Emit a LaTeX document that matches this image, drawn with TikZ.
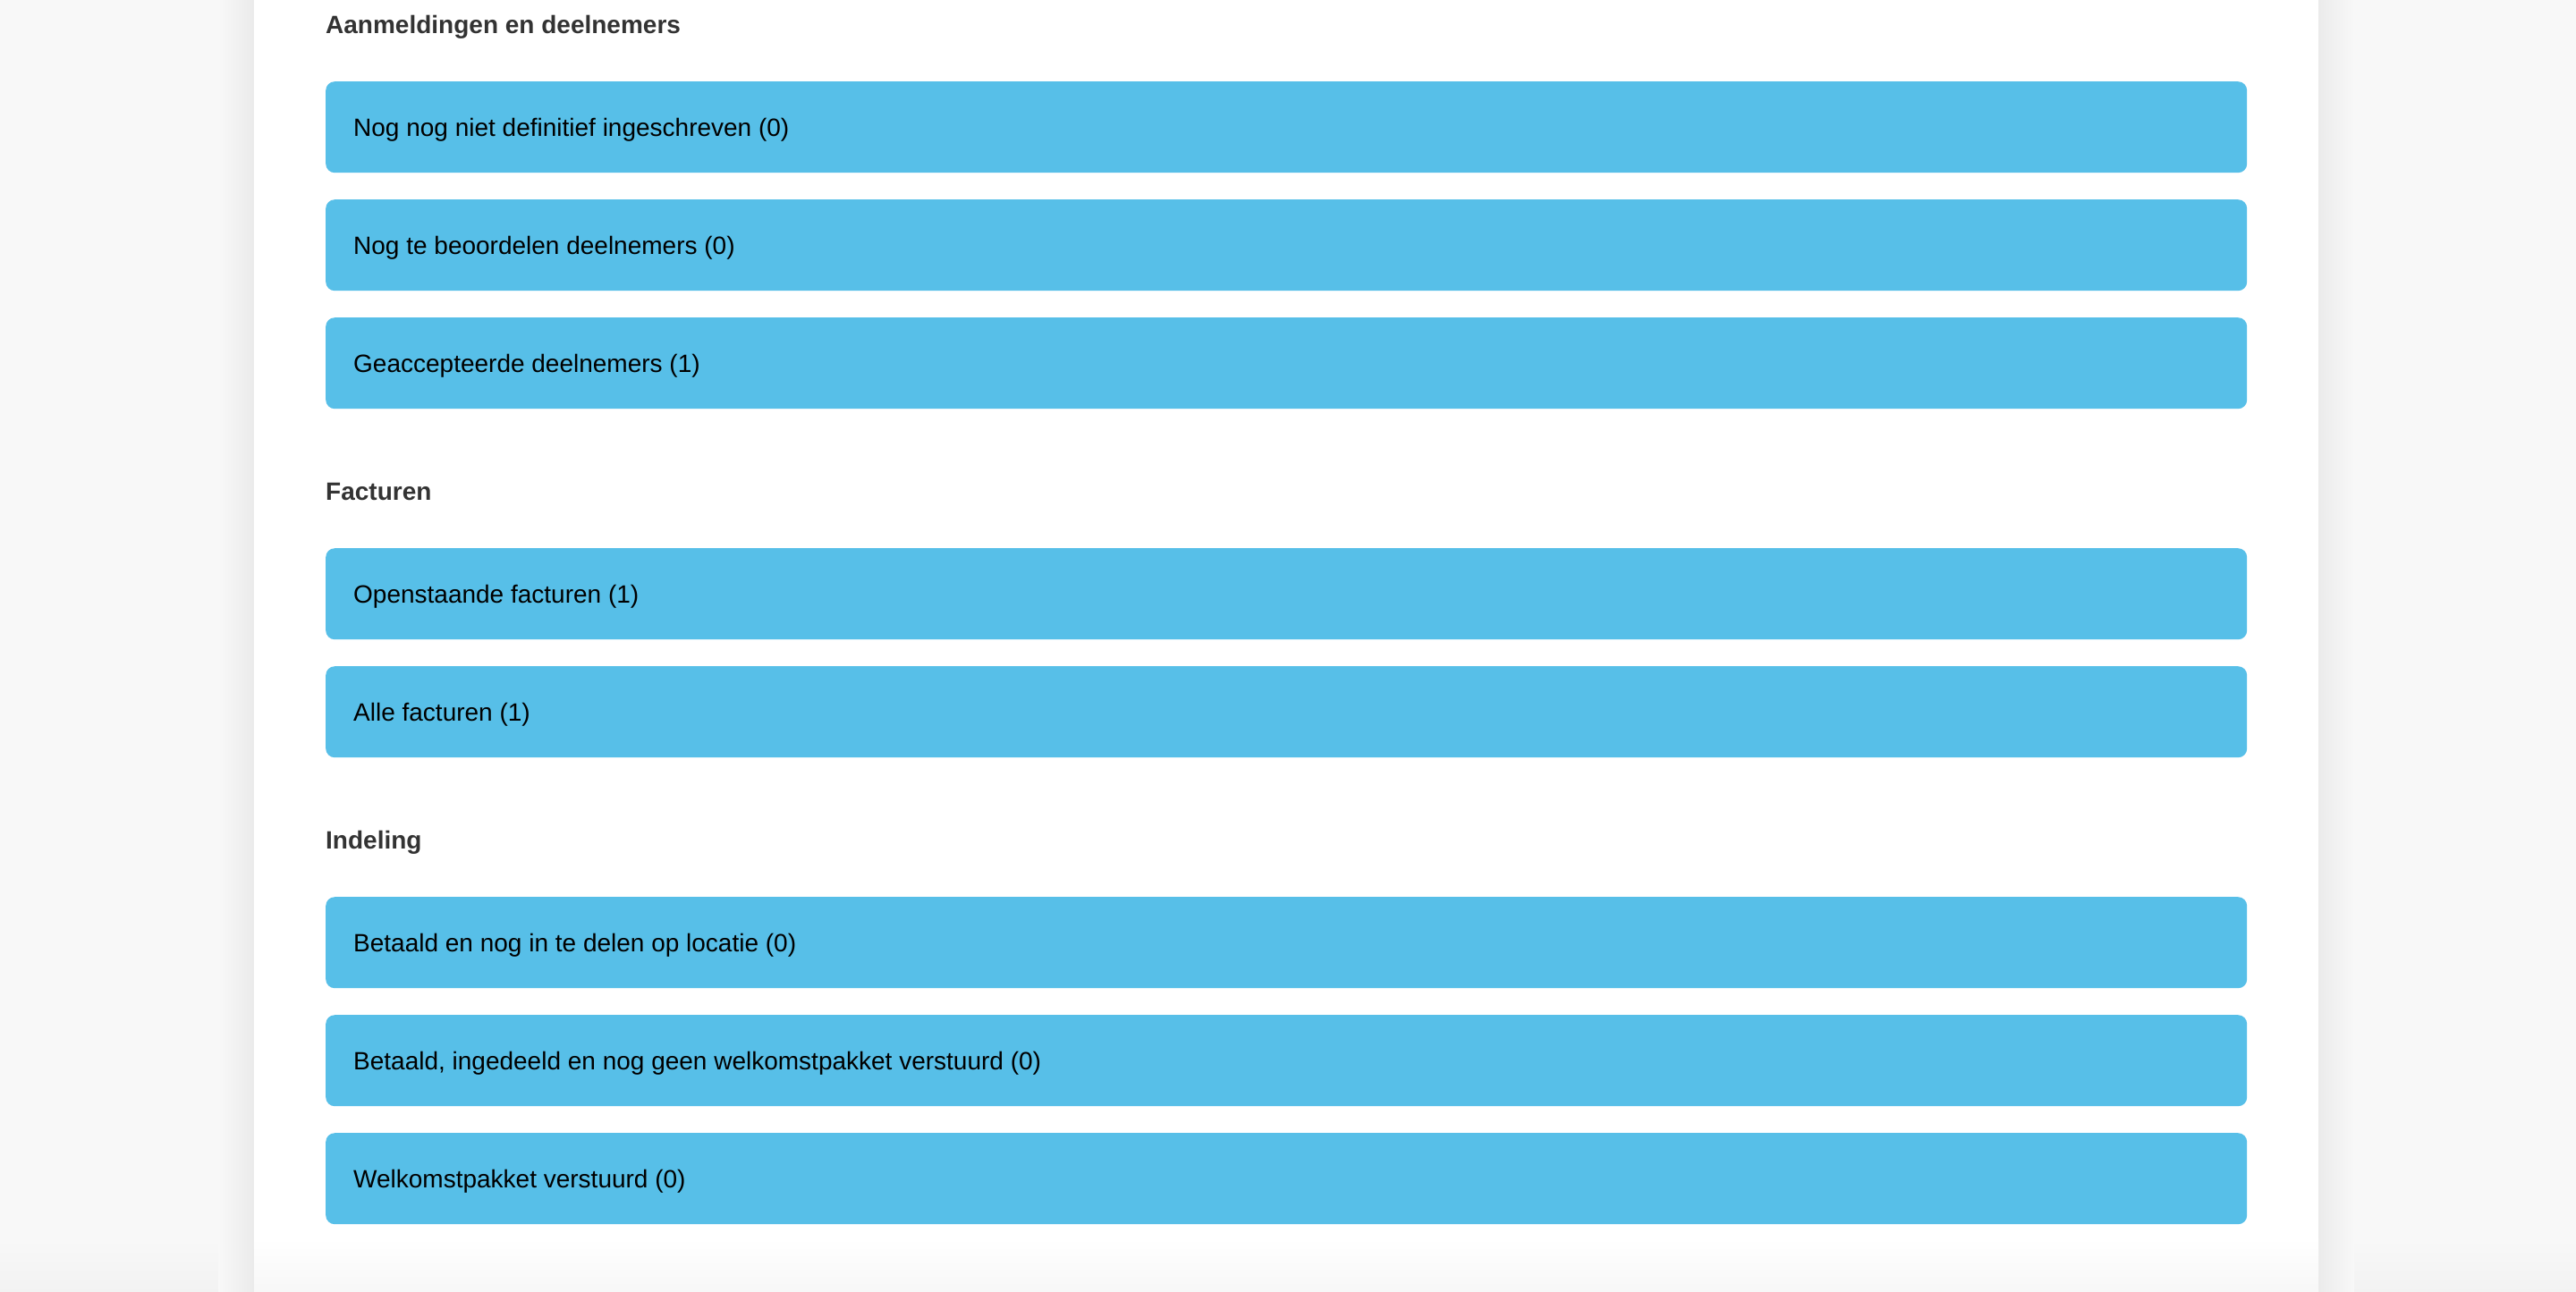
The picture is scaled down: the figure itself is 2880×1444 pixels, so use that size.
\documentclass[tikz,border=0pt]{standalone}
\usepackage{fontspec}
\setmainfont{Liberation Sans}
\definecolor{pagebg}{HTML}{F8F8F8}
\definecolor{barblue}{HTML}{57BFE8}
\definecolor{headgray}{HTML}{333333}
\tikzset{
  barbox/.style={fill=barblue, draw=none, rounded corners=10pt, minimum width=2148pt,
    minimum height=102pt, inner sep=0pt, anchor=north west},
  bartext/.style={anchor=base west, inner sep=0pt, font=\fontsize{28}{34}\selectfont, text=black},
  headtext/.style={anchor=base west, inner sep=0pt, font=\fontsize{28}{34}\selectfont\bfseries, text=headgray}
}
\begin{document}
\begin{tikzpicture}[x=1pt,y=-1pt]
\useasboundingbox (0,0) rectangle (2880,1444);
\fill[pagebg] (0,0) rectangle (2880,1444);
% bottom shade outside panel
\shade[top color=pagebg, bottom color=black!5] (0,1385) rectangle (2880,1444);
% side shadows of the panel
\shade[left color=pagebg, right color=black!8] (244,0) rectangle (284,1444);
\shade[left color=black!8, right color=pagebg] (2592,0) rectangle (2632,1444);
% panel
\fill[white] (284,0) rectangle (2592,1444);
\shade[top color=white, bottom color=black!3] (284,1385) rectangle (2592,1444);

% headings
\node[headtext] (h1) at (364,37) {Aanmeldingen en deelnemers};
\node[headtext] (h2) at (364,559) {Facturen};
\node[headtext] (h3) at (364,949) {Indeling};

% bars
\node[barbox] (b1) at (364,91) {};
\node[barbox] (b2) at (364,223) {};
\node[barbox] (b3) at (364,355) {};
\node[barbox] (b4) at (364,613) {};
\node[barbox] (b5) at (364,745) {};
\node[barbox] (b6) at (364,1003) {};
\node[barbox] (b7) at (364,1135) {};
\node[barbox] (b8) at (364,1267) {};

\node[bartext] (t1) at (395,152) {Nog nog niet definitief ingeschreven (0)};
\node[bartext] (t2) at (395,284) {Nog te beoordelen deelnemers (0)};
\node[bartext] (t3) at (395,416) {Geaccepteerde deelnemers (1)};
\node[bartext] (t4) at (395,674) {Openstaande facturen (1)};
\node[bartext] (t5) at (395,806) {Alle facturen (1)};
\node[bartext] (t6) at (395,1064) {Betaald en nog in te delen op locatie (0)};
\node[bartext] (t7) at (395,1196) {Betaald, ingedeeld en nog geen welkomstpakket verstuurd (0)};
\node[bartext] (t8) at (395,1328) {Welkomstpakket verstuurd (0)};
\end{tikzpicture}
\end{document}
